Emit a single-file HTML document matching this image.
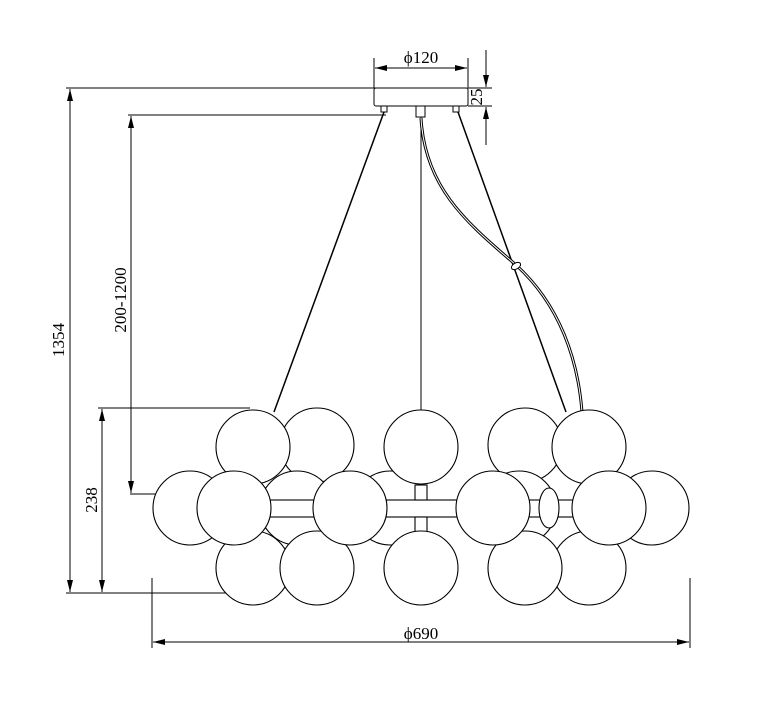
<!DOCTYPE html>
<html><head><meta charset="utf-8"><style>html,body{margin:0;padding:0;background:#fff}svg{display:block}</style></head>
<body>
<svg width="766" height="719" viewBox="0 0 766 719" xmlns="http://www.w3.org/2000/svg" font-family="Liberation Serif, serif">
<defs>
<marker id="a" viewBox="0 0 10 10" refX="10" refY="5" markerWidth="14" markerHeight="12" orient="auto-start-reverse" markerUnits="userSpaceOnUse"><path d="M0,2.5 L10,5 L0,7.5 z" fill="#000"/></marker>
</defs>
<g stroke="#000" stroke-width="1" fill="none">
<line x1="66" y1="88" x2="376" y2="88"/>
<line x1="128" y1="115" x2="386" y2="115"/>
<line x1="98" y1="408" x2="250" y2="408"/>
<line x1="66" y1="593" x2="250" y2="593"/>
<line x1="130" y1="494" x2="155" y2="494"/>
<line x1="152" y1="578" x2="152" y2="648"/>
<line x1="690" y1="578" x2="690" y2="648"/>
<line x1="374" y1="58" x2="374" y2="88"/>
<line x1="468" y1="58" x2="468" y2="88"/>
<line x1="468" y1="88" x2="492" y2="88"/>
<line x1="468" y1="106" x2="492" y2="106"/>
<line x1="70" y1="89" x2="70" y2="592" marker-start="url(#a)" marker-end="url(#a)"/>
<line x1="131" y1="116" x2="131" y2="493" marker-start="url(#a)" marker-end="url(#a)"/>
<line x1="102" y1="409" x2="102" y2="592" marker-start="url(#a)" marker-end="url(#a)"/>
<line x1="153" y1="642" x2="689" y2="642" marker-start="url(#a)" marker-end="url(#a)"/>
<line x1="375" y1="68" x2="467" y2="68" marker-start="url(#a)" marker-end="url(#a)"/>
<line x1="486" y1="50" x2="486" y2="87" marker-end="url(#a)"/>
<line x1="486" y1="145" x2="486" y2="107" marker-end="url(#a)"/>
<rect x="374" y="88" width="94" height="18" rx="2" fill="#fff"/>
<rect x="416" y="106" width="9" height="11"/>
<rect x="381" y="106" width="6" height="6"/>
<rect x="453" y="106" width="6" height="6"/>
<line x1="384" y1="112" x2="274" y2="412" stroke-width="1.5"/>
<line x1="458" y1="112" x2="566" y2="412" stroke-width="1.5"/>
<line x1="421" y1="117" x2="421" y2="412"/>
<path d="M421,118 C425,190 470,225 516,265 C560,305 578,360 582,412" stroke-width="3"/>
<path d="M421,118 C425,190 470,225 516,265 C560,305 578,360 582,412" stroke="#fff" stroke-width="1"/>
<ellipse cx="516" cy="266" rx="5" ry="3" fill="#fff" transform="rotate(-30 516 266)"/>
</g>
<g stroke="#000" stroke-width="1.1" fill="#fff">
<circle cx="317" cy="445" r="37"/>
<circle cx="525" cy="445" r="37"/>
<circle cx="190" cy="508" r="37"/>
<circle cx="297" cy="508" r="37"/>
<circle cx="390" cy="508" r="37"/>
<circle cx="519" cy="508" r="37"/>
<circle cx="652" cy="508" r="37"/>
<circle cx="253" cy="568" r="37"/>
<circle cx="589" cy="568" r="37"/>
<rect x="268" y="500" width="310" height="17"/>
<rect x="415" y="485" width="12" height="15"/>
<rect x="415" y="517" width="12" height="15"/>
<ellipse cx="549" cy="508" rx="10" ry="20"/>
<circle cx="253" cy="447" r="37"/>
<circle cx="421" cy="447" r="37"/>
<circle cx="589" cy="447" r="37"/>
<circle cx="317" cy="568" r="37"/>
<circle cx="421" cy="568" r="37"/>
<circle cx="525" cy="568" r="37"/>
<circle cx="234" cy="508" r="37"/>
<circle cx="350" cy="508" r="37"/>
<circle cx="493" cy="508" r="37"/>
<circle cx="609" cy="508" r="37"/>
</g>
<g font-size="17" fill="#000">
<text x="421" y="63" text-anchor="middle">ϕ120</text>
<text x="421" y="639" text-anchor="middle">ϕ690</text>
<text transform="translate(64,340) rotate(-90)" text-anchor="middle">1354</text>
<text transform="translate(126,300) rotate(-90)" text-anchor="middle">200-1200</text>
<text transform="translate(97,500) rotate(-90)" text-anchor="middle">238</text>
<text transform="translate(482,97) rotate(-90)" text-anchor="middle">25</text>
</g>
</svg>
</body></html>
